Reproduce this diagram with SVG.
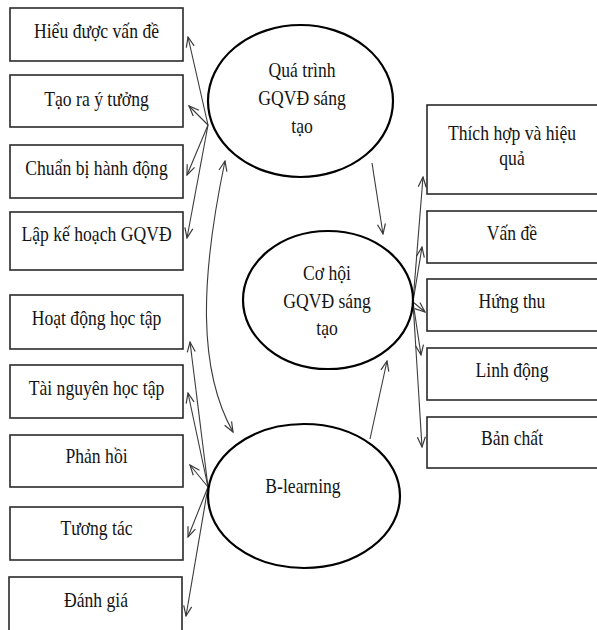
<svg xmlns="http://www.w3.org/2000/svg" width="597" height="630" viewBox="0 0 597 630">
<style>
.box{fill:#fff;stroke:#2a2a2a;stroke-width:1.6}
.ell{fill:#fff;stroke:#000;stroke-width:2.2}
.t{font-family:'Liberation Serif','DejaVu Serif',serif;font-size:20.5px;fill:#141414;text-anchor:middle}
.c{fill:none;stroke:#3a3a3a;stroke-width:1.1}
</style>
<defs>
<marker id="ah" markerWidth="12" markerHeight="10" refX="11" refY="5" orient="auto-start-reverse" markerUnits="userSpaceOnUse">
<path d="M1,1 L11,5 L1,9" fill="none" stroke="#3a3a3a" stroke-width="1.2"/>
</marker>
</defs>
<rect width="597" height="630" fill="#fff"/>
<g id="connectors">
<line class="c" x1="208" y1="125" x2="188" y2="37" marker-end="url(#ah)"/>
<line class="c" x1="208" y1="125" x2="189" y2="106" marker-end="url(#ah)"/>
<line class="c" x1="208" y1="125" x2="187" y2="175" marker-end="url(#ah)"/>
<line class="c" x1="208" y1="125" x2="187" y2="238" marker-end="url(#ah)"/>
<path class="c" d="M225,161 C200,280 198,370 233,432" marker-start="url(#ah)" marker-end="url(#ah)"/>
<line class="c" x1="208" y1="487" x2="190" y2="342" marker-end="url(#ah)"/>
<line class="c" x1="208" y1="487" x2="188" y2="393" marker-end="url(#ah)"/>
<line class="c" x1="208" y1="487" x2="190" y2="465" marker-end="url(#ah)"/>
<line class="c" x1="208" y1="487" x2="188" y2="537" marker-end="url(#ah)"/>
<line class="c" x1="208" y1="487" x2="186" y2="616" marker-end="url(#ah)"/>
<line class="c" x1="372" y1="163" x2="383" y2="234" marker-end="url(#ah)"/>
<line class="c" x1="370" y1="439" x2="387" y2="361" marker-end="url(#ah)"/>
<line class="c" x1="413" y1="302" x2="423" y2="177" marker-end="url(#ah)"/>
<line class="c" x1="413" y1="302" x2="422" y2="247" marker-end="url(#ah)"/>
<line class="c" x1="413" y1="302" x2="425" y2="312" marker-end="url(#ah)"/>
<line class="c" x1="413" y1="302" x2="421" y2="355" marker-end="url(#ah)"/>
<line class="c" x1="413" y1="302" x2="422" y2="447" marker-end="url(#ah)"/>
</g>
<g font-family="Liberation Serif, DejaVu Serif, serif">
<g id="n-hieu"><rect class="box" x="10" y="8" width="173" height="53"/><text class="t" transform="translate(96.5 38) scale(0.86 1)">Hiểu được vấn đề</text></g>
<g id="n-taora"><rect class="box" x="10" y="75" width="173" height="52"/><text class="t" transform="translate(96.5 106) scale(0.86 1)">Tạo ra ý tưởng</text></g>
<g id="n-chuanbi"><rect class="box" x="10" y="145" width="173" height="53"/><text class="t" transform="translate(96.5 175) scale(0.86 1)">Chuẩn bị hành động</text></g>
<g id="n-lapke"><rect class="box" x="10" y="212" width="173" height="58"/><text class="t" transform="translate(96.5 241) scale(0.86 1)">Lập kế hoạch GQVĐ</text></g>
<g id="n-hoatdong"><rect class="box" x="10" y="295" width="173" height="54"/><text class="t" transform="translate(96.5 325) scale(0.86 1)">Hoạt động học tập</text></g>
<g id="n-tainguyen"><rect class="box" x="10" y="365" width="173" height="53"/><text class="t" transform="translate(96.5 395) scale(0.86 1)">Tài nguyên học tập</text></g>
<g id="n-phanhoi"><rect class="box" x="10" y="435" width="173" height="52"/><text class="t" transform="translate(96.5 463) scale(0.86 1)">Phản hồi</text></g>
<g id="n-tuongtac"><rect class="box" x="10" y="507" width="173" height="53"/><text class="t" transform="translate(96.5 535) scale(0.86 1)">Tương tác</text></g>
<g id="n-danhgia"><rect class="box" x="9" y="577" width="173" height="60"/><text class="t" transform="translate(96 607) scale(0.86 1)">Đánh giá</text></g>
<g id="n-quatrinh"><ellipse class="ell" cx="300.5" cy="101" rx="92.5" ry="76"/>
<text class="t" transform="translate(302 77) scale(0.86 1)">Quá trình</text>
<text class="t" transform="translate(302 105) scale(0.86 1)">GQVĐ  sáng</text>
<text class="t" transform="translate(302 133) scale(0.86 1)">tạo</text></g>
<g id="n-cohoi"><ellipse class="ell" cx="328" cy="300" rx="85" ry="69"/>
<text class="t" transform="translate(327 280) scale(0.86 1)">Cơ hội</text>
<text class="t" transform="translate(327 308) scale(0.86 1)">GQVĐ  sáng</text>
<text class="t" transform="translate(327 335) scale(0.86 1)">tạo</text></g>
<g id="n-blearning"><ellipse class="ell" cx="304" cy="496" rx="96" ry="72"/>
<text class="t" transform="translate(303 493) scale(0.86 1)">B-learning</text></g>
<g id="n-thichhop"><rect class="box" x="427" y="105" width="180" height="89"/>
<text class="t" transform="translate(512 140) scale(0.86 1)">Thích hợp và hiệu</text>
<text class="t" transform="translate(512 165) scale(0.86 1)">quả</text></g>
<g id="n-vande"><rect class="box" x="427" y="211" width="180" height="52"/><text class="t" transform="translate(512 240) scale(0.86 1)">Vấn đề</text></g>
<g id="n-hungthu"><rect class="box" x="427" y="279" width="180" height="52"/><text class="t" transform="translate(512 308) scale(0.86 1)">Hứng thu</text></g>
<g id="n-linhdong"><rect class="box" x="427" y="348" width="180" height="52"/><text class="t" transform="translate(512 377) scale(0.86 1)">Linh động</text></g>
<g id="n-banchat"><rect class="box" x="427" y="417" width="180" height="51"/><text class="t" transform="translate(512 445) scale(0.86 1)">Bản chất</text></g>
</g>
</svg>
